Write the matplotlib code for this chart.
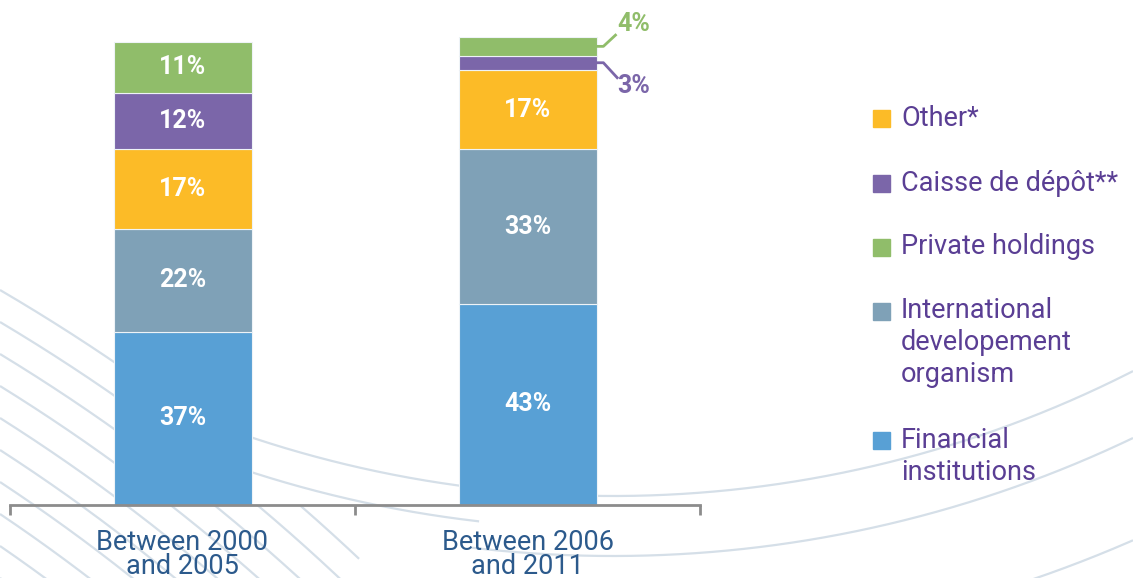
import numpy as np
import matplotlib.pyplot as plt
from matplotlib.patches import Rectangle

plt.rcParams['font.family'] = ['Roboto', 'DejaVu Sans']

periods = ['Between 2000\nand 2005', 'Between 2006\nand 2011']
# stacking order, bottom to top
series = ['Financial\ninstitutions', 'International\ndevelopement\norganism', 'Other*',
          'Caisse de dépôt**', 'Private holdings']
financial = [37, 43]
international = [22, 33]
other = [17, 17]
caisse = [12, 3]
private = [11, 4]
values = [financial, international, other, caisse, private]
colors = ['#58a0d5', '#7fa1b7', '#fcbb27', '#7b66a9', '#90bd6a']

legend_order = ['Other*', 'Caisse de dépôt**', 'Private holdings',
                'International\ndevelopement\norganism', 'Financial\ninstitutions']

W, H = 1133, 578
fig = plt.figure(figsize=(W / 100, H / 100), dpi=100)

# decorative background arcs (pixel coords)
bg = fig.add_axes([0, 0, 1, 1], zorder=0)
bg.set_xlim(0, W)
bg.set_ylim(H, 0)
bg.axis('off')
xs = np.linspace(0, W, 1200)

def arc(c, r, x0, x1, sign=1, lw=1.6, keep=None):
    x = xs[(xs >= x0) & (xs <= x1)]
    d = r ** 2 - (x - c[0]) ** 2
    x = x[d > 0]
    y = c[1] + sign * np.sqrt(d[d > 0])
    if keep is not None:
        y = np.where(keep(x, y), y, np.nan)
    bg.plot(x, y, color='#d5dfe8', lw=lw, solid_capstyle='butt')

# left bundle of nearly straight lines, slightly steeper lower down
c_left = (-1000, 2000)
for y0 in range(290, 700, 32):
    arc(c_left, np.hypot(c_left[0], c_left[1] - y0), 0, 360, sign=-1,
        keep=lambda x, y: (x < 252) | (y > 505))
# wide sweeping arcs
c_big = (613, -649)
arc(c_big, 1145, 240, W)
arc(c_big, 1178, 240, 480)
arc(c_big, 1205, 470, W)
arc(c_big, 1298, 900, W)

ax = fig.add_axes([10 / W, 73 / H, 690 / W, 468 / H], zorder=1)
ax.patch.set_alpha(0)

xpos = np.arange(len(periods))
width = 0.4
bottom = np.zeros(len(periods))
for vals, col in zip(values, colors):
    vals = np.array(vals, dtype=float)
    ax.bar(xpos, vals, width, bottom=bottom, color=col, edgecolor='#eef3f7', linewidth=0.8)
    for i, v in enumerate(vals):
        if v >= 10:
            ax.text(xpos[i], bottom[i] + v / 2, f'{int(v)}%', ha='center', va='center',
                    color='white', fontsize=18, fontweight='bold')
    bottom += vals

# outside labels for the small segments of the second bar
right = xpos[1] + width / 2
y_caisse = financial[1] + international[1] + other[1] + caisse[1] / 2
y_private = financial[1] + international[1] + other[1] + caisse[1] + private[1] / 2
ax.plot([right, right + 0.02, right + 0.055], [y_private, y_private, y_private + 2.4],
        color=colors[4], lw=2, clip_on=False)
ax.text(right + 0.06, y_private + 4.7, f'{private[1]}%', color=colors[4], fontsize=18,
        fontweight='bold', va='center', ha='left')
ax.plot([right, right + 0.02, right + 0.06], [y_caisse, y_caisse, y_caisse - 3.2],
        color=colors[3], lw=2, clip_on=False)
ax.text(right + 0.06, y_caisse - 4.9, f'{caisse[1]}%', color=colors[3], fontsize=18,
        fontweight='bold', va='center', ha='left')

ax.set_xlim(-0.5, 1.5)
ax.set_ylim(0, 100)
for s in ['top', 'right', 'left']:
    ax.spines[s].set_visible(False)
ax.spines['bottom'].set_color('#8c8c8c')
ax.spines['bottom'].set_linewidth(2)
ax.set_yticks([])
ax.set_xticks(xpos)
ax.set_xticklabels(periods, fontsize=19.5, color='#2c5a8c', linespacing=0.88)
ax.tick_params(axis='x', length=0, pad=17)
ax.set_xticks([-0.5, 0.5, 1.5], minor=True)
ax.tick_params(axis='x', which='minor', length=7, width=2, color='#8c8c8c', direction='out')

# legend, one text per line
first_y = [118, 183, 247, 311, 440]
step = 32
for lab, yy in zip(legend_order, first_y):
    col = colors[series.index(lab)]
    fig.patches.append(Rectangle((873 / W, 1 - (yy + 9) / H), 17 / W, 17 / H,
                                 transform=fig.transFigure, color=col, figure=fig))
    for k, line in enumerate(lab.split('\n')):
        fig.text(901 / W, 1 - (yy + k * step) / H, line, color='#5a3e94', fontsize=19.5,
                 va='center', ha='left')

fig.savefig('out.png', dpi=100)
